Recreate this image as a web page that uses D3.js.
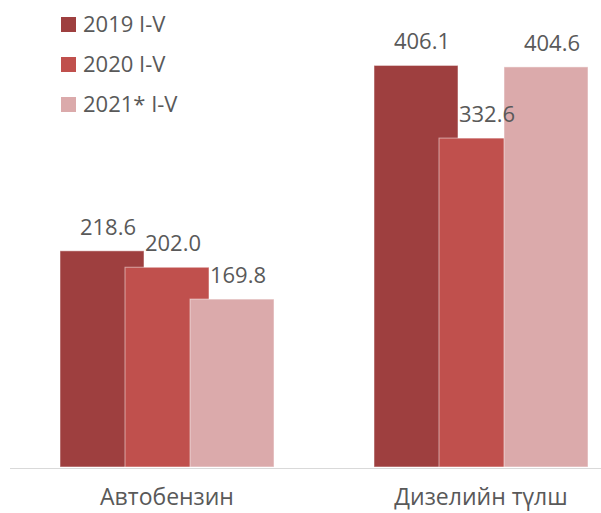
<!DOCTYPE html>
<html>
<head>
<meta charset="utf-8">
<script src="https://cdn.jsdelivr.net/npm/d3@7"></script>
<style>
  body { margin: 0; background: #fff; }
  text { font-family: "Open Sans", sans-serif; fill: #595959; }
</style>
</head>
<body>
<script>
// data
var categories = ["Автобензин", "Дизелийн түлш"];
var seriesNames = ["2019 I-V", "2020 I-V", "2021* I-V"];
var values2019 = [218.6, 406.1];
var values2020 = [202.0, 332.6];
var values2021 = [169.8, 404.6];
var seriesValues = [values2019, values2020, values2021];
var seriesColors = ["#9e3f3f", "#c0504d", "#dbaaab"];

// layout magic numbers
var w = 601;
var h = 513;
var baseY = 467;
var barW = 84;
var barStep = 65;

var svg = d3.select("body")
            .append("svg")
            .attr("width", w)
            .attr("height", h);

var x0 = d3.scaleBand()
           .domain(categories)
           .range([10, 638]);

var x1 = d3.scalePoint()
           .domain(seriesNames)
           .range([-barStep, barStep]);

var y = d3.scaleLinear()
          .domain([0, 450])
          .range([baseY, baseY - 445]);

// axis line
svg.append("line")
   .attr("x1", 10).attr("x2", w)
   .attr("y1", baseY + 1.5).attr("y2", baseY + 1.5)
   .attr("stroke", "#d9d9d9")
   .attr("stroke-width", 1);

// flatten into bar records
var bars = [];
seriesNames.forEach(function(s, si) {
    categories.forEach(function(c, ci) {
        bars.push({ cat: c, series: s, si: si, value: seriesValues[si][ci] });
    });
});

function barX(d) {
    return x0(d.cat) + x0.bandwidth() / 2 + x1(d.series) - barW / 2;
}

svg.selectAll("rect.bar")
   .data(bars)
   .enter()
   .append("rect")
   .attr("class", "bar")
   .attr("x", barX)
   .attr("y", function(d) { return y(d.value); })
   .attr("width", barW)
   .attr("height", function(d) { return y(0) - y(d.value); })
   .attr("fill", function(d) { return seriesColors[d.si]; })
   .attr("stroke", "rgba(255,255,255,0.5)")
   .attr("stroke-width", 1);

// value labels
svg.selectAll("text.val")
   .data(bars)
   .enter()
   .append("text")
   .attr("class", "val")
   .attr("x", function(d) { return barX(d) + barW / 2 + 6; })
   .attr("y", function(d) { return y(d.value) - 16; })
   .attr("text-anchor", "middle")
   .style("font-size", "22px")
   .text(function(d) { return d.value.toFixed(1); });

// category labels
svg.selectAll("text.cat")
   .data(categories)
   .enter()
   .append("text")
   .attr("class", "cat")
   .attr("x", function(d) { return x0(d) + x0.bandwidth() / 2; })
   .attr("y", 505)
   .attr("text-anchor", "middle")
   .style("font-size", "23px")
   .text(function(d) { return d; });

// legend
var legend = svg.selectAll("g.legend")
                .data(seriesNames)
                .enter()
                .append("g")
                .attr("class", "legend")
                .attr("transform", function(d, i) { return "translate(61," + (17 + i * 40) + ")"; });

legend.append("rect")
      .attr("width", 15)
      .attr("height", 15)
      .attr("fill", function(d, i) { return seriesColors[i]; });

legend.append("text")
      .attr("x", 22)
      .attr("y", 15)
      .style("font-size", "22px")
      .text(function(d) { return d; });
</script>
</body>
</html>
